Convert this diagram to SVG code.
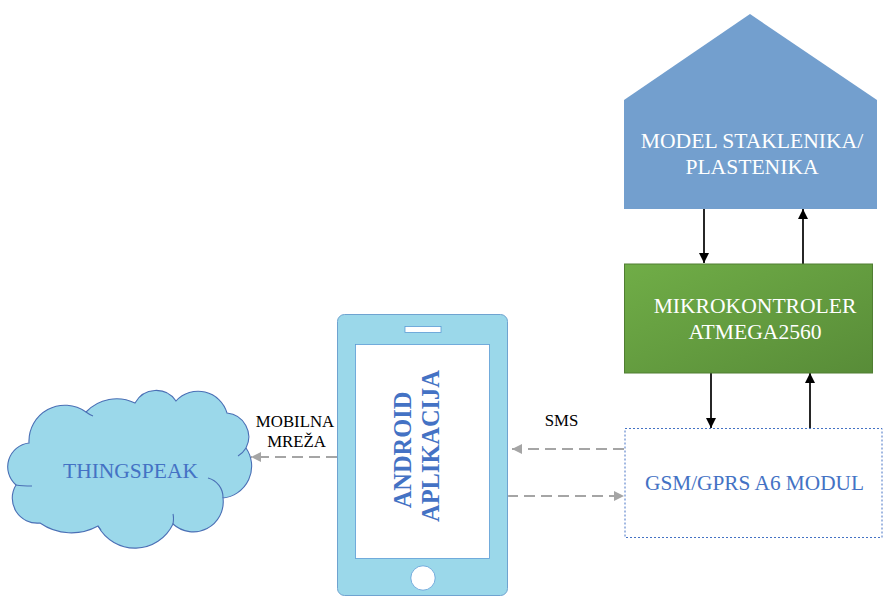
<svg xmlns="http://www.w3.org/2000/svg" width="886" height="610" viewBox="0 0 886 610">
<style>
text{font-family:"Liberation Serif","Times New Roman",serif;text-anchor:middle}
.w{fill:#fff;font-size:21.600px}
.b{fill:#4472c4;font-size:21.500px}
.k{fill:#000;font-size:16.800px}
.arr{stroke:#000;stroke-width:1.700;fill:none;marker-end:url(#ah)}
.dash{stroke:#a5a5a5;stroke-width:1.800;fill:none;stroke-dasharray:11 6;marker-end:url(#gh)}
</style>
<defs>
<marker id="ah" markerUnits="userSpaceOnUse" markerWidth="12" markerHeight="12" refX="10" refY="5" orient="auto"><path d="M0 0L10 5L0 10z" fill="#000"/></marker>
<marker id="gh" markerUnits="userSpaceOnUse" markerWidth="12" markerHeight="12" refX="10" refY="5" orient="auto"><path d="M0 0L10 5L0 10z" fill="#a5a5a5"/></marker>
<linearGradient id="g" x1="0" y1="0" x2="1" y2="1"><stop offset="0" stop-color="#70ad47"/><stop offset="1" stop-color="#588c38"/></linearGradient>
</defs>
<g id="connectors">
<path class="arr" d="M704 208V263"/>
<path class="arr" d="M803 264V209"/>
<path class="arr" d="M711 373V428"/>
<path class="arr" d="M810 428V373"/>
<path class="dash" d="M337 457H251"/>
<path class="dash" d="M624 449H512"/>
<path class="dash" d="M507 496H624"/>
</g>
<g id="model"><path d="M624 100L750 14L877 100V209H624z" fill="#739fce"/>
<text class="w" x="752" y="148">MODEL STAKLENIKA/</text><text class="w" x="752" y="174">PLASTENIKA</text></g>
<g id="mikrokontroler"><rect x="624.500" y="264" width="248" height="109" fill="url(#g)" stroke="#507e32" stroke-width="1"/>
<text class="w" x="755" y="313">MIKROKONTROLER</text><text class="w" x="755" y="339">ATMEGA2560</text></g>
<g id="gsm"><rect x="625" y="428.500" width="257" height="109" fill="#fff" stroke="#4472c4" stroke-width="1" stroke-dasharray="2 2"/>
<text class="b" x="754.500" y="490" style="font-size:21.300px">GSM/GPRS A6 MODUL</text></g>
<g id="telefon"><rect x="337.500" y="314.500" width="170" height="281" rx="7" fill="#9bd8ea" stroke="#6fa3d0"/>
<rect x="405" y="326.500" width="36" height="6" fill="#fff" stroke="#5b9bd5" stroke-width="0.800"/>
<rect x="355.500" y="344.500" width="134" height="214" fill="#fff" stroke="#5b9bd5" stroke-width="0.800"/>
<circle cx="423" cy="578" r="12.200" fill="#fff" stroke="#5b9bd5" stroke-width="0.800"/>
<g font-weight="bold" style="font-size:24.400px"><text fill="#4472c4" transform="translate(411 450) rotate(-90)">ANDROID</text><text fill="#4472c4" transform="translate(439 446) rotate(-90)">APLIKACIJA</text></g></g>
<g id="thingspeak"><path d="M29 443A36 36 0 0 1 86 412A42 42 0 0 1 135 403A24 24 0 0 1 176 401A30 30 0 0 1 227 413A24 24 0 0 1 246 448A32 32 0 0 1 223 498A30 30 0 0 1 173 524A42 42 0 0 1 98 526A55 55 0 0 1 40 523A25 25 0 0 1 16 485A24 24 0 0 1 29 443z" fill="#9bd8ea" stroke="#4a6fb5" stroke-width="1.100"/>
<path d="M238 456Q243 453 246 448M208 478A20 20 0 0 1 223 498M173 524Q174 518 173 514M98 526L101 530M16 485Q22 486 32 486M86 412Q90 415 93 416" fill="none" stroke="#4a6fb5" stroke-width="1.100"/>
<text class="b" x="130.500" y="478">THINGSPEAK</text></g>
<g id="labels"><text class="k" x="295" y="427">MOBILNA</text><text class="k" x="296.500" y="447">MREŽA</text><text class="k" x="561.500" y="426">SMS</text></g>
</svg>
